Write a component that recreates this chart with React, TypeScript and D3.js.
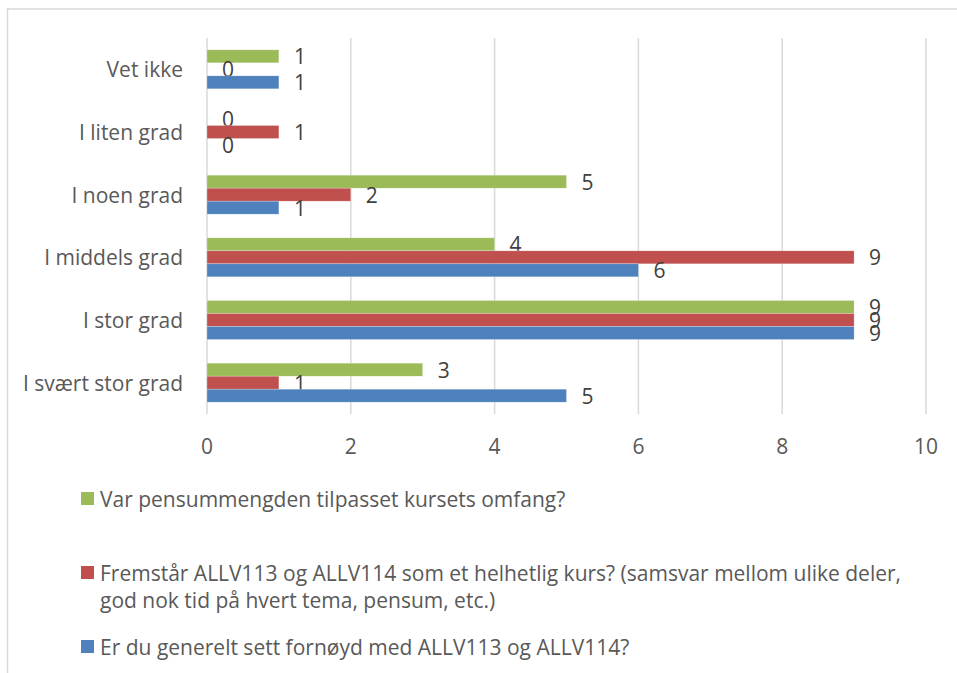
import React from "react";
import * as d3 from "d3";

const categories = ["Vet ikke", "I liten grad", "I noen grad", "I middels grad", "I stor grad", "I svært stor grad"];
const legendLines = [
  ["Var pensummengden tilpasset kursets omfang?"],
  ["Fremstår ALLV113 og ALLV114 som et helhetlig kurs? (samsvar mellom ulike deler,", "god nok tid på hvert tema, pensum, etc.)"],
  ["Er du generelt sett fornøyd med ALLV113 og ALLV114?"],
];
const pensumValues = [1, 0, 5, 4, 9, 3];
const helhetligValues = [0, 1, 2, 9, 9, 1];
const fornoydValues = [1, 0, 1, 6, 9, 5];
const seriesValues = [pensumValues, helhetligValues, fornoydValues];
const seriesColors = ["#9BBB59", "#C0504D", "#4F81BD"];
const xTicks = [0, 2, 4, 6, 8, 10];

const FONT = "'Open Sans', sans-serif";
const TEXT = "#595959";
const GRID = "#d9d9d9";

export default function App() {
  const W = 957, H = 673;
  const x = d3.scaleLinear().domain([0, 10]).range([207, 926]);
  const y = d3.scaleBand<string>().domain(categories).range([38, 414]);
  const groupH = 39;
  const inner = d3.scaleBand<number>().domain([0, 1, 2]).range([0, groupH]);
  const fs = 21;
  const legendY = [499, 573, 647];

  return (
    <svg width={W} height={H} style={{ position: "absolute", left: 0, top: 0, background: "#fff" }} fontFamily={FONT}>
      <rect x={7.5} y={9} width={W} height={H} fill="#fff" stroke={GRID} strokeWidth={1.5} />
      {xTicks.map((t) => (
        <line key={"g" + t} x1={x(t)} x2={x(t)} y1={38} y2={414} stroke={GRID} strokeWidth={1.5} />
      ))}
      {xTicks.map((t) => (
        <text key={"t" + t} x={x(t)} y={446} textAnchor="middle" dominantBaseline="central" fontSize={fs} fill={TEXT}>
          {t}
        </text>
      ))}
      {categories.map((c) => (
        <text key={c} x={183} y={(y(c) as number) + y.bandwidth() / 2} textAnchor="end" dominantBaseline="central" fontSize={fs} fill={TEXT}>
          {c}
        </text>
      ))}
      {categories.map((c, ci) => {
        const top = (y(c) as number) + y.bandwidth() / 2 - groupH / 2;
        return seriesValues.map((vals, si) => {
          const v = vals[ci];
          const by = top + (inner(si) as number);
          const bh = inner.bandwidth();
          return (
            <g key={c + si}>
              {v > 0 && (
                <rect x={x(0)} y={by} width={x(v) - x(0)} height={bh} fill={seriesColors[si]} stroke="#fff" strokeOpacity={0.5} strokeWidth={0.5} />
              )}
              <text x={x(v) + 15} y={by + bh / 2} textAnchor="start" dominantBaseline="central" fontSize={fs} fill="#404040">
                {v}
              </text>
            </g>
          );
        });
      })}
      {legendLines.map((lines, si) => (
        <g key={"l" + si}>
          <rect x={81} y={legendY[si] - 7} width={13} height={13} fill={seriesColors[si]} />
          {lines.map((ln, li) => (
            <text key={li} x={100} y={legendY[si] + li * 27} dominantBaseline="central" fontSize={fs} fill={TEXT}>
              {ln}
            </text>
          ))}
        </g>
      ))}
    </svg>
  );
}
